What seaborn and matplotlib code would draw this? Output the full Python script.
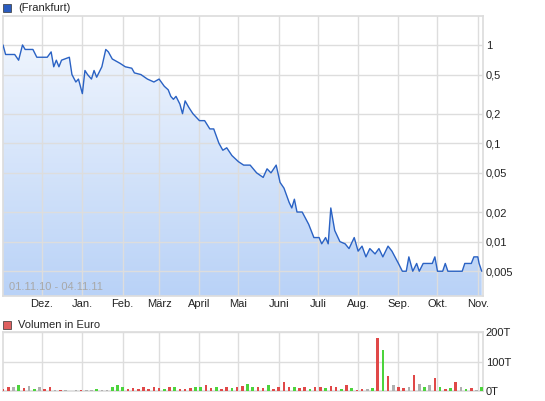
import numpy as np
import pandas as pd
import matplotlib
matplotlib.use("Agg")
import matplotlib.pyplot as plt
import matplotlib.dates as mdates
import seaborn as sns

priceDates = ["2010-11-01","2010-11-03","2010-11-10","2010-11-13","2010-11-16","2010-11-18","2010-11-24","2010-11-27",
    "2010-12-05","2010-12-08","2010-12-10","2010-12-12","2010-12-14","2010-12-16","2010-12-22","2010-12-24","2010-12-27",
    "2010-12-29","2011-01-01","2011-01-03","2011-01-05","2011-01-08","2011-01-10","2011-01-12","2011-01-16","2011-01-19",
    "2011-01-21","2011-01-24","2011-01-30","2011-02-03","2011-02-08","2011-02-10","2011-02-15","2011-02-20","2011-02-25",
    "2011-03-01","2011-03-05","2011-03-08","2011-03-10","2011-03-12","2011-03-14","2011-03-17","2011-03-19","2011-03-21",
    "2011-03-24","2011-03-27","2011-04-01","2011-04-05","2011-04-09","2011-04-12","2011-04-16","2011-04-19","2011-04-22",
    "2011-04-26","2011-05-01","2011-05-05","2011-05-10","2011-05-15","2011-05-20","2011-05-23","2011-05-26","2011-05-30",
    "2011-06-02","2011-06-05","2011-06-09","2011-06-11","2011-06-13","2011-06-15","2011-06-19","2011-06-24","2011-06-28",
    "2011-07-02","2011-07-04","2011-07-07","2011-07-09","2011-07-11","2011-07-14","2011-07-18","2011-07-22","2011-07-25",
    "2011-07-29","2011-08-01","2011-08-04","2011-08-07","2011-08-10","2011-08-14","2011-08-17","2011-08-20","2011-08-24",
    "2011-08-27","2011-09-01","2011-09-04","2011-09-07","2011-09-09","2011-09-12","2011-09-15","2011-09-17","2011-09-20",
    "2011-09-27","2011-09-29","2011-10-01","2011-10-05","2011-10-07","2011-10-09","2011-10-20","2011-10-22","2011-10-27",
    "2011-10-29","2011-11-01","2011-11-02","2011-11-03","2011-11-04"]
priceValues = [1.0,0.8,0.8,0.7,1.0,0.9,0.9,0.75,
    0.75,0.85,0.6,0.7,0.6,0.7,0.75,0.5,0.42,
    0.45,0.32,0.55,0.5,0.45,0.55,0.47,0.6,0.9,
    0.85,0.72,0.65,0.6,0.58,0.52,0.5,0.45,0.42,
    0.45,0.38,0.35,0.3,0.28,0.3,0.25,0.2,0.27,
    0.23,0.2,0.17,0.17,0.14,0.14,0.1,0.085,0.09,
    0.075,0.065,0.06,0.06,0.05,0.045,0.055,0.05,0.06,
    0.04,0.035,0.025,0.022,0.027,0.02,0.02,0.015,0.011,
    0.011,0.0095,0.011,0.0095,0.022,0.013,0.01,0.0095,0.0085,
    0.011,0.008,0.009,0.007,0.0085,0.0075,0.0085,0.007,0.009,
    0.008,0.006,0.005,0.005,0.007,0.005,0.006,0.005,0.006,
    0.006,0.007,0.005,0.005,0.006,0.005,0.005,0.006,0.006,
    0.007,0.007,0.006,0.0055,0.005]

# volume in thousand euro, one bar every 4 days from 2010-11-01; g=up, r=down, k=flat
volStart = "2010-11-01"
volValues = [8,12,15,20,10,18,6,12,8,15,4,3,2,0,2,5,3,2,6,2,
    3,15,20,12,8,10,6,12,8,14,10,7,12,15,6,8,10,12,15,20,
    10,12,8,15,10,12,18,25,15,12,10,20,8,14,30,12,15,10,12,8,
    15,12,10,18,12,8,20,10,5,6,8,10,180,140,50,20,15,10,12,55,
    25,12,20,45,15,8,10,30,12,8,10,5,12,8,15,4,6,3,4,5]
volColors = list("rrkgrkgkrrkrkkkrkkgkkgggrrrrrrrgrgrrrggrrgrrgrrggrrgrrrrgrrgrrgrrgrgrrkgrgrkrrkrkgkrgrgrkgrkgkkrkgkr")

sns.set_theme(style="white")
plt.rcParams['font.family'] = ['Liberation Sans', 'DejaVu Sans']

priceIdx = pd.to_datetime(priceDates)
volIdx = pd.date_range(volStart, periods=len(volValues), freq="4D")
palette = {"g": "#4cd43c", "r": "#e04848", "k": "#b0b0b0"}

fig = plt.figure(figsize=(5.45, 4.01), dpi=100)
ax = fig.add_axes([3/545, 105/401, 480/545, 280/401])
axv = fig.add_axes([3/545, 10/401, 480/545, 59/401])
xmin, xmax = pd.Timestamp("2010-11-01"), pd.Timestamp("2011-11-05")
ymin, ymax = 0.0028, 1.97

for a in (ax, axv):
    a.set_xlim(xmin, xmax)
    a.yaxis.tick_right()
    a.set_axisbelow(False)
    a.grid(True, color="#dddddd", lw=1, zorder=2)
    for s in a.spines.values():
        s.set_color("#dddddd")
    a.tick_params(length=0, labelsize=8, colors="#222222", pad=2)

ax.set_yscale("log")
ax.set_ylim(ymin, ymax)
yt = [1, 0.5, 0.2, 0.1, 0.05, 0.02, 0.01, 0.005]
ax.set_yticks(yt)
ax.set_yticklabels([str(v).replace(".", ",") for v in yt])
ax.yaxis.set_minor_locator(matplotlib.ticker.NullLocator())
months = ["Dez.", "Jan.", "Feb.", "März", "April", "Mai", "Juni", "Juli", "Aug.", "Sep.", "Okt.", "Nov."]
monthTicks = pd.date_range("2010-12-01", periods=12, freq="MS")

# gradient fill under the line, drawn in axes coordinates and clipped to the area
poly = ax.fill_between(priceIdx, priceValues, ymin, color="none")
grad = np.linspace(0, 1, 256).reshape(-1, 1)
cmap = matplotlib.colors.LinearSegmentedColormap.from_list("g", ["#b9d2f7", "#f4f8fe"])
img = ax.imshow(grad, cmap=cmap, aspect="auto", origin="lower",
    extent=[0, 1, 0, 1], transform=ax.transAxes, zorder=1)
img.set_clip_path(poly.get_paths()[0], transform=ax.transData)
sns.lineplot(x=priceIdx, y=priceValues, ax=ax, color="#2a62c4", lw=1, zorder=3)
ax.set_xlim(xmin, xmax)
ax.set_ylim(ymin, ymax)
ax.set_xlabel("")
ax.set_ylabel("")
ax.set_xticks(monthTicks)
ax.set_xticklabels(months)
ax.text(0.012, 0.02, "01.11.10 - 04.11.11", transform=ax.transAxes, color="#a8a8a8", fontsize=8, zorder=4)

axv.bar(volIdx, volValues, width=2.0, lw=0, color=[palette[c] for c in volColors], zorder=3)
axv.set_ylim(0, 200)
axv.set_yticks([0, 100, 200])
axv.set_yticklabels(["0T", "100T", "200T"])
axv.set_xticks(monthTicks)
axv.set_xticklabels([])

fig.patches.append(matplotlib.patches.Rectangle((3/545, 389/401), 8/545, 8/401, transform=fig.transFigure, fc="#2a5cc0", ec="#333333", lw=0.5))
fig.text(18/545, 393/401, "(Frankfurt)", fontsize=8, va="center")
fig.patches.append(matplotlib.patches.Rectangle((3/545, 72/401), 8/545, 8/401, transform=fig.transFigure, fc="#e06060", ec="#333333", lw=0.5))
fig.text(18/545, 76/401, "Volumen in Euro", fontsize=8, va="center")

fig.savefig("out.png", dpi=100)
